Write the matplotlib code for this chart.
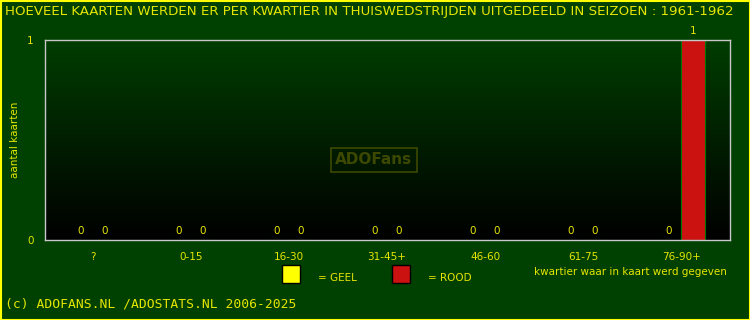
"""
Kaarten per kwartier in thuiswedstrijden, seizoen 1961-1962
"""

import matplotlib
matplotlib.use('Agg')
import matplotlib.pyplot as plt
import numpy as np
from matplotlib.patches import Rectangle

# Data
categories = ['?', '0-15', '16-30', '31-45+', '46-60', '61-75', '76-90+']
geel = [0, 0, 0, 0, 0, 0, 0]
rood = [0, 0, 0, 0, 0, 0, 1]

title = 'HOEVEEL KAARTEN WERDEN ER PER KWARTIER IN THUISWEDSTRIJDEN UITGEDEELD IN SEIZOEN : 1961-1962'

bg = '#004000'
yellow = '#ffff00'
txt = '#e6e600'
red = '#cc1111'

fig = plt.figure(figsize=(7.5, 3.2), dpi=100, facecolor=bg)
ax = fig.add_axes([45 / 750, 80 / 320, 685 / 750, 200 / 320])
ax.set_facecolor('black')

# gradient background: dark green at top, black at bottom
grad = np.linspace(0, 1, 256).reshape(-1, 1)
cmap = matplotlib.colors.LinearSegmentedColormap.from_list('g', ['#000000', '#003d00'])
ax.imshow(grad, extent=[0, 1, 0, 1], transform=ax.transAxes, aspect='auto',
          cmap=cmap, origin='lower', zorder=0)

x = np.arange(len(categories))
w = 0.245
ax.bar(x - w / 2, geel, width=w, color=yellow, edgecolor='#006600', linewidth=0.8, zorder=2)
ax.bar(x + w / 2, rood, width=w, color=red, edgecolor='#007700', linewidth=0.8, zorder=2)

for i in range(len(categories)):
    ax.annotate(str(geel[i]), (x[i] - w / 2, geel[i]), xytext=(0, 3), textcoords='offset points',
                ha='center', va='bottom', color=txt, fontsize=7.5)
    ax.annotate(str(rood[i]), (x[i] + w / 2, rood[i]), xytext=(0, 3), textcoords='offset points',
                ha='center', va='bottom', color=txt, fontsize=7.5, annotation_clip=False)

ax.set_xlim(-0.49, 6.50)
ax.set_ylim(0, 1)
ax.set_xticks(x)
ax.set_xticklabels(categories)
ax.set_yticks([0, 1])
ax.tick_params(length=0, colors=txt, labelsize=7.5)
ax.tick_params(axis='x', pad=9)
ax.tick_params(axis='y', pad=8)
for s in ax.spines.values():
    s.set_color('#c8c8c8')
    s.set_linewidth(1)

# y label placed in figure pixels
fig.text(15 / 750, 1 - 140 / 320, 'aantal kaarten', rotation=90, ha='center', va='center',
         color=txt, fontsize=7.5)

# watermark
ax.text(0.48, 0.4, 'ADOFans', transform=ax.transAxes, ha='center', va='center',
        fontsize=11, fontweight='bold', color='#3d4800', zorder=1,
        bbox=dict(boxstyle='square,pad=0.3', fc='none', ec='#3d4800', lw=1.2))

# title and footer
fig.text(5 / 750, 1 - 12 / 320, title, ha='left', va='center', color=txt, fontsize=9.6)
fig.text(5 / 750, 1 - 304 / 320, '(c) ADOFANS.NL /ADOSTATS.NL 2006-2025', ha='left', va='center',
         color=txt, fontsize=9.4, family='DejaVu Sans Mono')

# legend
fig.patches.append(Rectangle((282 / 750, 1 - 283 / 320), 18 / 750, 18 / 320, transform=fig.transFigure,
                             fc=yellow, ec='black', lw=1))
fig.text(318 / 750, 1 - 278 / 320, '= GEEL', ha='left', va='center', color=txt, fontsize=7.5)
fig.patches.append(Rectangle((392 / 750, 1 - 283 / 320), 18 / 750, 18 / 320, transform=fig.transFigure,
                             fc=red, ec='black', lw=1))
fig.text(428 / 750, 1 - 278 / 320, '= ROOD', ha='left', va='center', color=txt, fontsize=7.5)
fig.text(727 / 750, 1 - 272 / 320, 'kwartier waar in kaart werd gegeven', ha='right', va='center',
         color=txt, fontsize=7.5)

# yellow border
fig.patches.append(Rectangle((0.5 / 750, 0.5 / 320), 749 / 750, 319 / 320, transform=fig.transFigure,
                             fc='none', ec=yellow, lw=1.5))

fig.savefig('out.png', dpi=100, facecolor=bg)
